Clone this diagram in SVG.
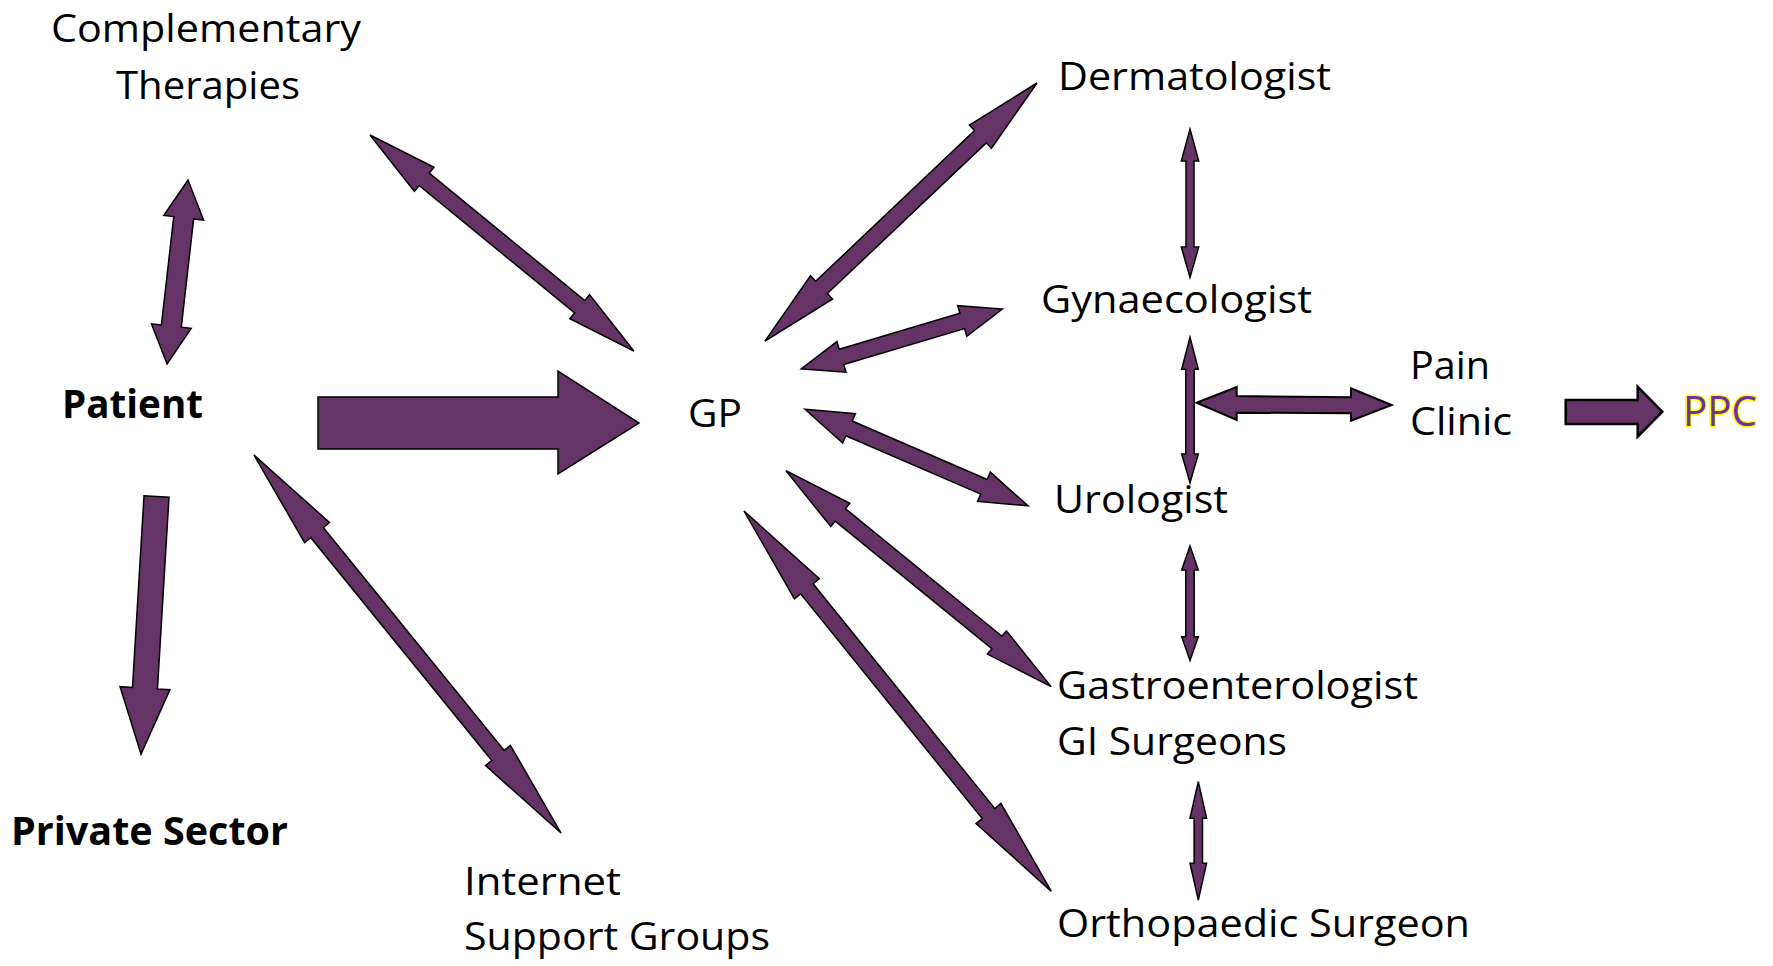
<svg xmlns="http://www.w3.org/2000/svg" width="1773" height="966" viewBox="0 0 1773 966">
<style>
.t{font-family:"Open Sans","Noto Sans","Liberation Sans",sans-serif;font-size:39px;fill:#000}
.b{font-weight:bold}
.a{fill:#663366;stroke:#000;stroke-width:1.5;stroke-linejoin:miter}
.ppc{font-family:"Open Sans","Noto Sans","Liberation Sans",sans-serif;font-size:42px;fill:#7030A0;stroke:#FFFF00;stroke-width:3;paint-order:stroke;stroke-linejoin:round}
</style>
<rect width="1773" height="966" fill="#fff"/>
<g id="connectors">
<polygon class="a" transform="translate(188,180) rotate(96.5)" points="0,0 38,-20 38,-10 147,-10 147,-20 185,0 147,20 147,10 38,10 38,20"/>
<polygon class="a" transform="translate(370,135) rotate(39.3)" points="0,0 70,-15.5 70,-8 271,-8 271,-15.5 341,0 271,15.5 271,8 70,8 70,15.5"/>
<polygon class="a" transform="translate(254,455) rotate(50.92)" points="0,0 100,-16 100,-8 387,-8 387,-16 487,0 387,16 387,8 100,8 100,16"/>
<polygon class="a" transform="translate(156.5,496.5) rotate(93.44)" points="0,-12.5 192,-12.5 192,-25 258,0 192,25 192,12.5 0,12.5"/>
<polygon class="a" points="318,397 558,397 558,371 639,423 558,474 558,449 318,449"/>
<polygon class="a" transform="translate(1037,83) rotate(136.51)" points="0,0 78,-16 78,-8.5 297,-8.5 297,-16 375,0 297,16 297,8.5 78,8.5 78,16"/>
<polygon class="a" transform="translate(1002.5,309) rotate(163.42)" points="0,0 42,-16 42,-8 168,-8 168,-16 210,0 168,16 168,8 42,8 42,16"/>
<polygon class="a" transform="translate(805,409.3) rotate(23.41)" points="0,0 48,-16 48,-8 195,-8 195,-16 243,0 195,16 195,8 48,8 48,16"/>
<polygon class="a" transform="translate(786,470.7) rotate(39.16)" points="0,0 70,-15 70,-8 272,-8 272,-15 342,0 272,15 272,8 70,8 70,15"/>
<polygon class="a" transform="translate(744,511) rotate(51.06)" points="0,0 100,-16 100,-8 389,-8 389,-16 489,0 389,16 389,8 100,8 100,16"/>
<polygon class="a" points="1190,129 1198.7,161 1194,161 1194,247 1198.7,247 1190,277.5 1181.3,247 1186,247 1186,161 1181.3,161"/>
<polygon class="a" points="1190,337.3 1198.3,369.3 1194.2,369.3 1194.2,454 1198.3,454 1190,482.7 1181.7,454 1185.8,454 1185.8,369.3 1181.7,369.3"/>
<polygon class="a" points="1190,546 1198.3,570 1194.2,570 1194.2,636.7 1198.3,636.7 1190,660.5 1181.7,636.7 1185.8,636.7 1185.8,570 1181.7,570"/>
<polygon class="a" points="1198.3,781.7 1206.6,818.3 1202.5,818.3 1202.5,863.3 1206.6,863.3 1198.3,900 1190,863.3 1194.1,863.3 1194.1,818.3 1190,818.3"/>
<polygon class="a" style="stroke-width:2" points="1196.7,402.7 1236.7,387 1236.7,396 1351,397.3 1351,388.3 1391.7,405 1351,420.7 1351,413.3 1236.7,412.7 1236.7,420"/>
<polygon class="a" style="stroke-width:2.5" points="1565.7,400 1637.7,400 1637.7,386.7 1662.3,411.7 1637.7,436.7 1637.7,424 1565.7,424"/>
</g>
<g id="complementary"><text class="t" x="51" y="41.7" textLength="310" lengthAdjust="spacingAndGlyphs">Complementary</text><text class="t" x="116" y="99.3" textLength="184" lengthAdjust="spacingAndGlyphs">Therapies</text></g>
<g id="patient"><text class="t b" x="62" y="418" textLength="141" lengthAdjust="spacingAndGlyphs">Patient</text></g>
<g id="private"><text class="t b" x="11" y="845" textLength="277" lengthAdjust="spacingAndGlyphs">Private Sector</text></g>
<g id="internet"><text class="t" x="464" y="895" textLength="157" lengthAdjust="spacingAndGlyphs">Internet</text><text class="t" x="464" y="950" textLength="306" lengthAdjust="spacingAndGlyphs">Support Groups</text></g>
<g id="gp"><text class="t" x="688" y="427" textLength="54" lengthAdjust="spacingAndGlyphs">GP</text></g>
<g id="dermatologist"><text class="t" x="1058" y="90" textLength="273" lengthAdjust="spacingAndGlyphs">Dermatologist</text></g>
<g id="gynaecologist"><text class="t" x="1041" y="313.3" textLength="271" lengthAdjust="spacingAndGlyphs">Gynaecologist</text></g>
<g id="urologist"><text class="t" x="1054" y="513" textLength="174" lengthAdjust="spacingAndGlyphs">Urologist</text></g>
<g id="pain"><text class="t" x="1410" y="379" textLength="80" lengthAdjust="spacingAndGlyphs">Pain</text><text class="t" x="1410" y="435" textLength="102" lengthAdjust="spacingAndGlyphs">Clinic</text></g>
<g id="ppc"><text class="ppc" x="1683" y="426" textLength="74" lengthAdjust="spacingAndGlyphs">PPC</text></g>
<g id="gastro"><text class="t" x="1057" y="699" textLength="361" lengthAdjust="spacingAndGlyphs">Gastroenterologist</text><text class="t" x="1057" y="755" textLength="230" lengthAdjust="spacingAndGlyphs">GI Surgeons</text></g>
<g id="ortho"><text class="t" x="1057" y="936.7" textLength="413" lengthAdjust="spacingAndGlyphs">Orthopaedic Surgeon</text></g>
</svg>
